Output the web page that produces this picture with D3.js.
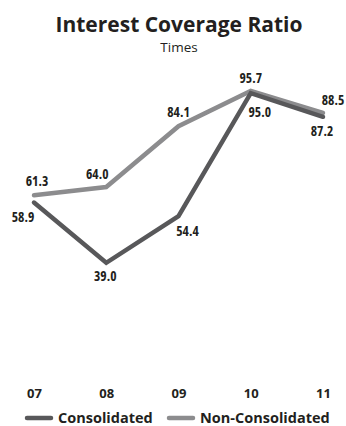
<!DOCTYPE html>
<html>
<head>
<meta charset="utf-8">
<script src="https://cdn.jsdelivr.net/npm/d3@7"></script>
<style>
  body { margin: 0; background: #fff; }
  .val { font-family: "Open Sans", sans-serif; font-stretch: 75%; font-weight: bold; font-size: 13.5px; fill: #231f20; }
</style>
</head>
<body>
<div id="chart"></div>
<script>
// data
const years = ['07', '08', '09', '10', '11'];
const consolidated = [58.9, 39.0, 54.4, 95.0, 87.2];
const nonConsolidated = [61.3, 64.0, 84.1, 95.7, 88.5];
const seriesNames = ['Consolidated', 'Non-Consolidated'];
const colors = ['#58585a', '#8c8c8e'];

const width = 346, height = 426;

const svg = d3.select('#chart').append('svg')
    .attr('width', width)
    .attr('height', height);

const xScale = d3.scalePoint()
    .domain(years)
    .range([34, 323]);

const yScale = d3.scaleLinear()
    .domain([0, 100])
    .range([381, 78]);

// title
svg.append('text')
    .attr('x', 179).attr('y', 32)
    .attr('text-anchor', 'middle')
    .style('font-family', '"Open Sans", sans-serif')
    .style('font-weight', 'bold')
    .style('font-size', '21px')
    .style('fill', '#231f20')
    .text('Interest Coverage Ratio');

svg.append('text')
    .attr('x', 179).attr('y', 52)
    .attr('text-anchor', 'middle')
    .style('font-family', '"Open Sans", sans-serif')
    .style('font-size', '13.5px')
    .style('fill', '#231f20')
    .text('Times');

// lines
const line = d3.line()
    .x((d, i) => xScale(years[i]))
    .y(d => yScale(d));

[nonConsolidated, consolidated].forEach((s, k) => {
    svg.append('path')
        .datum(s)
        .attr('d', line)
        .attr('fill', 'none')
        .attr('stroke', colors[1 - k])
        .attr('stroke-width', 4.5)
        .attr('stroke-linecap', 'round')
        .attr('stroke-linejoin', 'miter');
});

// value labels (offsets relative to the point)
const nonOffsets = [[3, -9], [-9, -8], [0, -9], [0, -8], [10, -8]];
const conOffsets = [[-11, 19], [-1, 18], [9, 20], [9, 24], [-1, 19]];

svg.selectAll('.val-non')
    .data(nonConsolidated)
    .join('text')
    .attr('class', 'val')
    .attr('text-anchor', 'middle')
    .attr('x', (d, i) => xScale(years[i]) + nonOffsets[i][0])
    .attr('y', (d, i) => yScale(d) + nonOffsets[i][1])
    .text(d => d.toFixed(1));

svg.selectAll('.val-con')
    .data(consolidated)
    .join('text')
    .attr('class', 'val')
    .attr('text-anchor', 'middle')
    .attr('x', (d, i) => xScale(years[i]) + conOffsets[i][0])
    .attr('y', (d, i) => yScale(d) + conOffsets[i][1])
    .text(d => d.toFixed(1));

// x axis labels
const xAxis = d3.axisBottom(xScale).tickSize(0).tickPadding(0);
const xAxisGroup = svg.append('g')
    .attr('transform', 'translate(0,389)')
    .call(xAxis);
xAxisGroup.select('.domain').remove();
xAxisGroup.selectAll('text')
    .style('font-family', '"Open Sans", sans-serif')
    .style('font-weight', 'bold')
    .style('font-size', '13px')
    .style('fill', '#231f20');

// legend
const legendItems = [
    {name: seriesNames[0], color: colors[0], x: 25},
    {name: seriesNames[1], color: colors[1], x: 167}
];
const legend = svg.append('g');
legendItems.forEach(item => {
    legend.append('line')
        .attr('x1', item.x + 2).attr('x2', item.x + 26)
        .attr('y1', 418).attr('y2', 418)
        .attr('stroke', item.color)
        .attr('stroke-width', 4.5)
        .attr('stroke-linecap', 'round');
    legend.append('text')
        .attr('x', item.x + 33).attr('y', 423)
        .style('font-family', '"Open Sans", sans-serif')
        .style('font-weight', 'bold')
        .style('font-size', '14.5px')
        .style('fill', '#231f20')
        .text(item.name);
});
</script>
</body>
</html>
